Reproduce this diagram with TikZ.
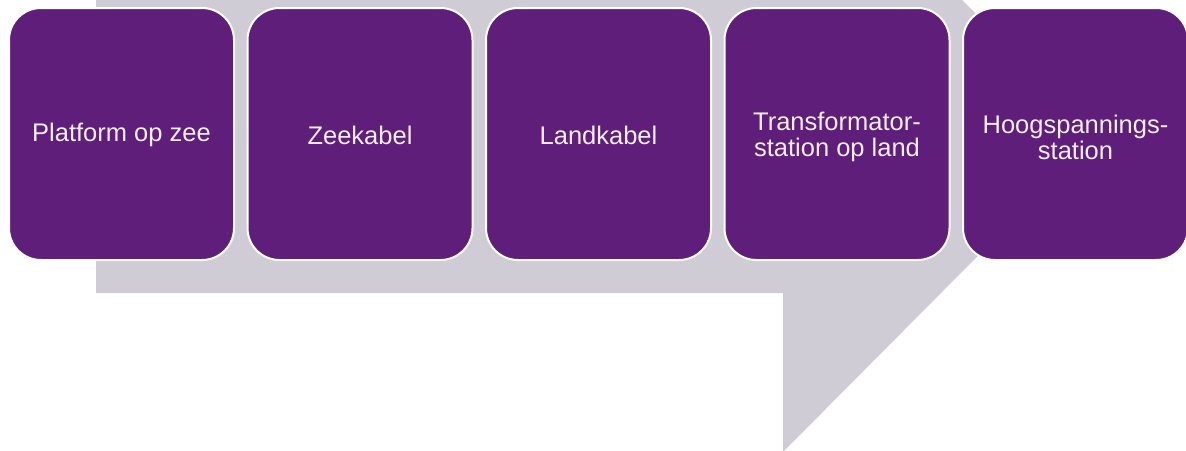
\documentclass[tikz,border=0pt]{standalone}
\usepackage{fontspec}
\setmainfont{Liberation Sans}
\definecolor{boxpurple}{RGB}{94,30,121}
\definecolor{arrowgray}{RGB}{207,204,213}
\definecolor{textwhite}{RGB}{246,238,248}
\begin{document}
\begin{tikzpicture}[x=1pt,y=-1pt,
  stepbox/.style={draw=white,line width=2pt,fill=boxpurple,rounded corners=32pt,
    minimum width=225pt,minimum height=252pt,inner sep=0pt},
  steptext/.style={text=textwhite,align=center,inner sep=0pt,
    font=\fontsize{25.5pt}{26pt}\selectfont}]
\useasboundingbox (0,0) rectangle (1186,450);
\clip (0,0) rectangle (1186,450);
\fill[arrowgray] (96,-30) -- (96,293) -- (783,293) -- (783,452)
  -- (1097.5,135.5) -- (932,-30) -- cycle;
\node[stepbox] (b1) at (121.5,134) {};
\node[stepbox] (b2) at (360,134) {};
\node[stepbox] (b3) at (598.5,134) {};
\node[stepbox] (b4) at (837,134) {};
\node[stepbox] (b5) at (1075.5,134) {};
\node[steptext] (t1) at ([yshift=-1pt]b1.center) {Platform op zee};
\node[steptext] (t2) at ([yshift=-1pt]b2.center) {Zeekabel};
\node[steptext] (t3) at ([yshift=-1pt]b3.center) {Landkabel};
\node[steptext] (t4) at ([yshift=-3pt]b4.center) {Transformator-\\station op land};
\node[steptext] (t5) at ([yshift=-3pt]b5.center) {Hoogspannings-\\station};
\end{tikzpicture}
\end{document}
